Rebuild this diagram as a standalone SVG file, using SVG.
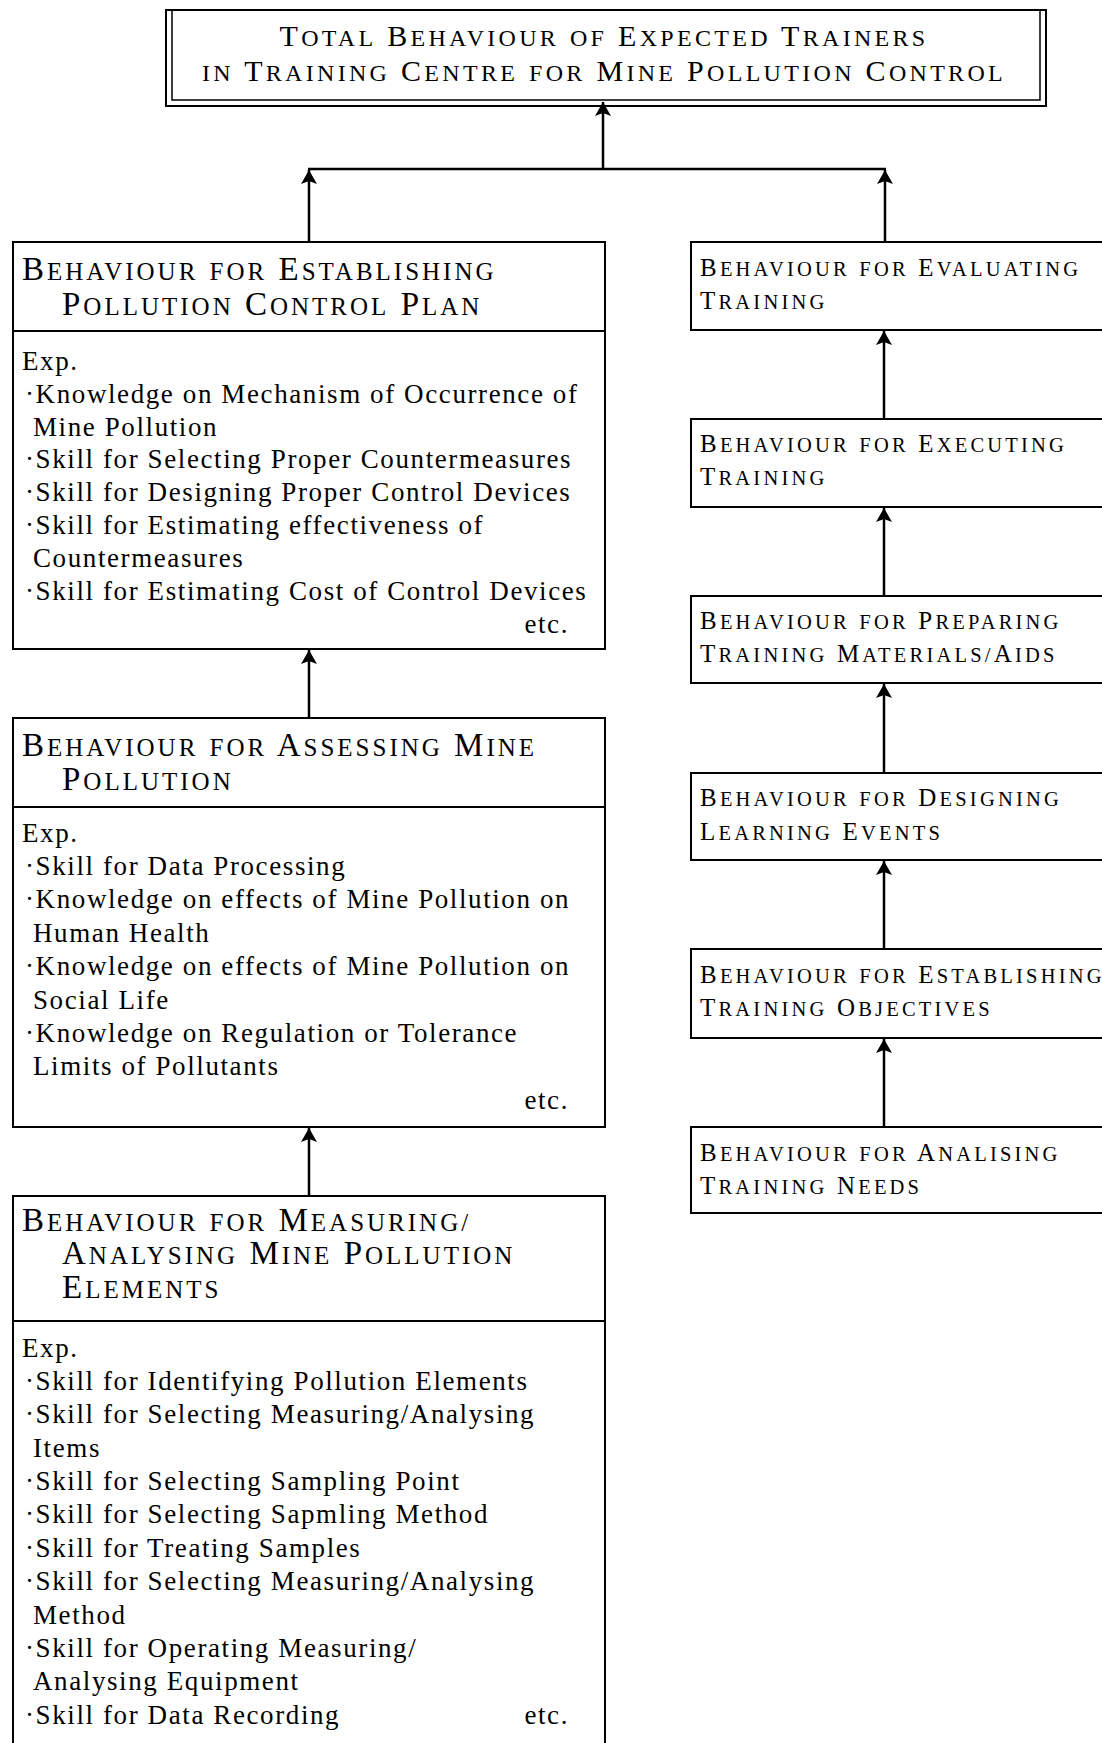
<svg xmlns="http://www.w3.org/2000/svg" width="1102" height="1743" viewBox="0 0 1102 1743">
<defs>
<style>
.box{fill:none;stroke:#000;stroke-width:2}
.thin{fill:none;stroke:#000;stroke-width:1.5}
.conn{fill:none;stroke:#000;stroke-width:2.5}
text{font-family:"Liberation Serif","Times New Roman",serif;fill:#000}
.t{font-size:30px;letter-spacing:3.3px}
.t .s{font-size:24px}
.lh{font-size:33px;letter-spacing:3px}
.lh .s{font-size:25px}
.rh{font-size:25px;letter-spacing:3.2px}
.rh .s{font-size:20.5px}
.b{font-size:27px;letter-spacing:1.6px}
.e{text-anchor:end}
</style>
<marker id="ah" viewBox="0 -8 14 16" refX="14" refY="0" markerWidth="14" markerHeight="16" markerUnits="userSpaceOnUse" orient="auto">
<path d="M14,0 L0,-8 L3,0 L0,8 Z" fill="#000"/>
</marker>
</defs>
<rect width="1102" height="1743" fill="#fff"/>

<g id="connectors">
<path class="conn" d="M603,169 V102" marker-end="url(#ah)"/>
<path class="conn" d="M308,169 H886"/>
<path class="conn" d="M309,242 V170" marker-end="url(#ah)"/>
<path class="conn" d="M885,242 V170" marker-end="url(#ah)"/>
<path class="conn" d="M309,718 V650" marker-end="url(#ah)"/>
<path class="conn" d="M309,1196 V1128" marker-end="url(#ah)"/>
<path class="conn" d="M884,419 V331" marker-end="url(#ah)"/>
<path class="conn" d="M884,596 V508" marker-end="url(#ah)"/>
<path class="conn" d="M884,773 V684" marker-end="url(#ah)"/>
<path class="conn" d="M884,949 V861" marker-end="url(#ah)"/>
<path class="conn" d="M884,1127 V1039" marker-end="url(#ah)"/>
</g>

<g id="top">
<rect class="box" x="166" y="10" width="880" height="96"/>
<path class="thin" d="M172,11 V100 H1040 V11"/>
<text class="t" x="604" y="46" text-anchor="middle">T<tspan class="s">OTAL</tspan> B<tspan class="s">EHAVIOUR</tspan> <tspan class="s">OF</tspan> E<tspan class="s">XPECTED</tspan> T<tspan class="s">RAINERS</tspan></text>
<text class="t" x="604" y="81" text-anchor="middle"><tspan class="s">IN</tspan> T<tspan class="s">RAINING</tspan> C<tspan class="s">ENTRE</tspan> <tspan class="s">FOR</tspan> M<tspan class="s">INE</tspan> P<tspan class="s">OLLUTION</tspan> C<tspan class="s">ONTROL</tspan></text>
</g>

<g id="plan">
<rect class="box" x="13" y="242" width="592" height="407"/>
<line class="box" x1="13" y1="331" x2="605" y2="331"/>
<text class="lh" x="22" y="280">B<tspan class="s">EHAVIOUR</tspan> <tspan class="s">FOR</tspan> E<tspan class="s">STABLISHING</tspan></text>
<text class="lh" x="62" y="315">P<tspan class="s">OLLUTION</tspan> C<tspan class="s">ONTROL</tspan> P<tspan class="s">LAN</tspan></text>
<text class="b" x="22" y="370">Exp.</text>
<text class="b" x="25" y="403">·Knowledge on Mechanism of Occurrence of</text>
<text class="b" x="33" y="436">Mine Pollution</text>
<text class="b" x="25" y="468">·Skill for Selecting Proper Countermeasures</text>
<text class="b" x="25" y="501">·Skill for Designing Proper Control Devices</text>
<text class="b" x="25" y="534">·Skill for Estimating effectiveness of</text>
<text class="b" x="33" y="567">Countermeasures</text>
<text class="b" x="25" y="600">·Skill for Estimating Cost of Control Devices</text>
<text class="b e" x="569" y="633">etc.</text>
</g>

<g id="assess">
<rect class="box" x="13" y="718" width="592" height="409"/>
<line class="box" x1="13" y1="807" x2="605" y2="807"/>
<text class="lh" x="22" y="756">B<tspan class="s">EHAVIOUR</tspan> <tspan class="s">FOR</tspan> A<tspan class="s">SSESSING</tspan> M<tspan class="s">INE</tspan></text>
<text class="lh" x="62" y="790">P<tspan class="s">OLLUTION</tspan></text>
<text class="b" x="22" y="842">Exp.</text>
<text class="b" x="25" y="875">·Skill for Data Processing</text>
<text class="b" x="25" y="908">·Knowledge on effects of Mine Pollution on</text>
<text class="b" x="33" y="942">Human Health</text>
<text class="b" x="25" y="975">·Knowledge on effects of Mine Pollution on</text>
<text class="b" x="33" y="1009">Social Life</text>
<text class="b" x="25" y="1042">·Knowledge on Regulation or Tolerance</text>
<text class="b" x="33" y="1075">Limits of Pollutants</text>
<text class="b e" x="569" y="1109">etc.</text>
</g>

<g id="measure">
<rect class="box" x="13" y="1196" width="592" height="600"/>
<line class="box" x1="13" y1="1321" x2="605" y2="1321"/>
<text class="lh" x="22" y="1231">B<tspan class="s">EHAVIOUR</tspan> <tspan class="s">FOR</tspan> M<tspan class="s">EASURING/</tspan></text>
<text class="lh" x="62" y="1264">A<tspan class="s">NALYSING</tspan> M<tspan class="s">INE</tspan> P<tspan class="s">OLLUTION</tspan></text>
<text class="lh" x="62" y="1298">E<tspan class="s">LEMENTS</tspan></text>
<text class="b" x="22" y="1357">Exp.</text>
<text class="b" x="25" y="1390">·Skill for Identifying Pollution Elements</text>
<text class="b" x="25" y="1423">·Skill for Selecting Measuring/Analysing</text>
<text class="b" x="33" y="1457">Items</text>
<text class="b" x="25" y="1490">·Skill for Selecting Sampling Point</text>
<text class="b" x="25" y="1523">·Skill for Selecting Sapmling Method</text>
<text class="b" x="25" y="1557">·Skill for Treating Samples</text>
<text class="b" x="25" y="1590">·Skill for Selecting Measuring/Analysing</text>
<text class="b" x="33" y="1624">Method</text>
<text class="b" x="25" y="1657">·Skill for Operating Measuring/</text>
<text class="b" x="33" y="1690">Analysing Equipment</text>
<text class="b" x="25" y="1724">·Skill for Data Recording</text>
<text class="b e" x="569" y="1724">etc.</text>
</g>

<g id="evaluating">
<rect class="box" x="691" y="242" width="450" height="88"/>
<text class="rh" x="700" y="276">B<tspan class="s">EHAVIOUR</tspan> <tspan class="s">FOR</tspan> E<tspan class="s">VALUATING</tspan></text>
<text class="rh" x="700" y="309">T<tspan class="s">RAINING</tspan></text>
</g>

<g id="executing">
<rect class="box" x="691" y="419" width="450" height="88"/>
<text class="rh" x="700" y="452">B<tspan class="s">EHAVIOUR</tspan> <tspan class="s">FOR</tspan> E<tspan class="s">XECUTING</tspan></text>
<text class="rh" x="700" y="485">T<tspan class="s">RAINING</tspan></text>
</g>

<g id="preparing">
<rect class="box" x="691" y="596" width="450" height="87"/>
<text class="rh" x="700" y="629">B<tspan class="s">EHAVIOUR</tspan> <tspan class="s">FOR</tspan> P<tspan class="s">REPARING</tspan></text>
<text class="rh" x="700" y="662">T<tspan class="s">RAINING</tspan> M<tspan class="s">ATERIALS/</tspan>A<tspan class="s">IDS</tspan></text>
</g>

<g id="designing">
<rect class="box" x="691" y="773" width="450" height="87"/>
<text class="rh" x="700" y="806">B<tspan class="s">EHAVIOUR</tspan> <tspan class="s">FOR</tspan> D<tspan class="s">ESIGNING</tspan></text>
<text class="rh" x="700" y="840">L<tspan class="s">EARNING</tspan> E<tspan class="s">VENTS</tspan></text>
</g>

<g id="objectives">
<rect class="box" x="691" y="949" width="450" height="89"/>
<text class="rh" x="700" y="983">B<tspan class="s">EHAVIOUR</tspan> <tspan class="s">FOR</tspan> E<tspan class="s">STABLISHING</tspan></text>
<text class="rh" x="700" y="1016">T<tspan class="s">RAINING</tspan> O<tspan class="s">BJECTIVES</tspan></text>
</g>

<g id="needs">
<rect class="box" x="691" y="1127" width="450" height="86"/>
<text class="rh" x="700" y="1161">B<tspan class="s">EHAVIOUR</tspan> <tspan class="s">FOR</tspan> A<tspan class="s">NALISING</tspan></text>
<text class="rh" x="700" y="1194">T<tspan class="s">RAINING</tspan> N<tspan class="s">EEDS</tspan></text>
</g>
</svg>
